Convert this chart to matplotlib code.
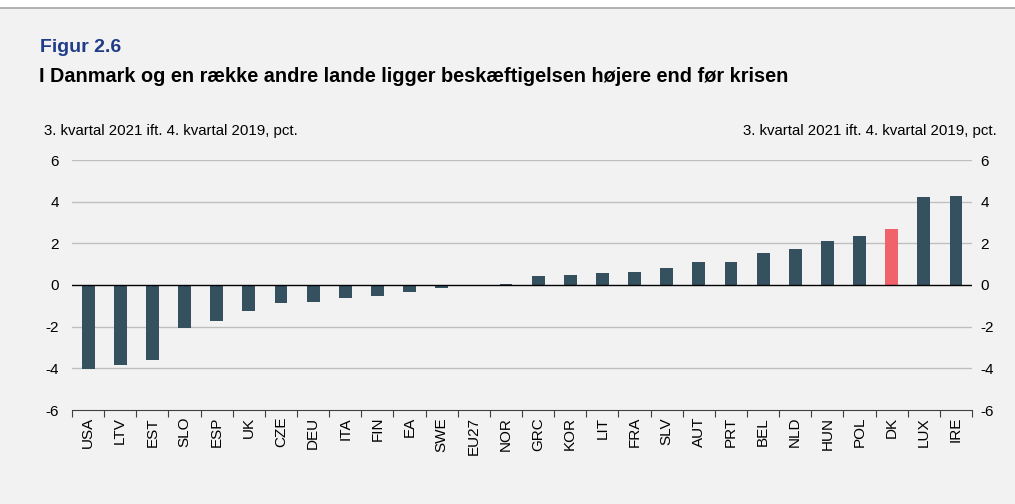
import numpy as np
import matplotlib
matplotlib.use("Agg")
from matplotlib import pyplot as plt
from matplotlib.patches import Rectangle

plt.rcParams['font.family'] = ['Liberation Sans', 'DejaVu Sans']

# Data.
countries = ["USA", "LTV", "EST", "SLO", "ESP", "UK", "CZE", "DEU", "ITA", "FIN",
             "EA", "SWE", "EU27", "NOR", "GRC", "KOR", "LIT", "FRA", "SLV", "AUT",
             "PRT", "BEL", "NLD", "HUN", "POL", "DK", "LUX", "IRE"]
values = [-4.03, -3.84, -3.6, -2.06, -1.71, -1.25, -0.86, -0.83, -0.62, -0.51,
          -0.34, -0.14, -0.06, 0.06, 0.43, 0.48, 0.59, 0.64, 0.8, 1.1,
          1.1, 1.54, 1.71, 2.1, 2.37, 2.7, 4.21, 4.29]
highlight = "DK"
y_ticks = [-6, -4, -2, 0, 2, 4, 6]
unit_label = "3. kvartal 2021 ift. 4. kvartal 2019, pct."

bg = "#f2f2f2"
bar_color = "#35505f"
hl_color = "#f0636b"

fig = plt.figure(figsize=(10.15, 5.04), dpi=100)
fig.patch.set_facecolor(bg)

# White strip and thin line at the very top.
fig.patches.append(Rectangle((0, 1 - 8 / 504), 1, 8 / 504, transform=fig.transFigure,
                             facecolor="white", edgecolor="none", zorder=0))
fig.add_artist(plt.Line2D([0, 1], [1 - 8 / 504, 1 - 8 / 504], transform=fig.transFigure,
                          color="#a6a6a6", lw=1.2))

ax = fig.add_axes([72 / 1015, 1 - 410 / 504, 900 / 1015, 250 / 504])
ax.set_facecolor(bg)

x = np.arange(len(countries))
colors = [hl_color if c == highlight else bar_color for c in countries]
ax.bar(x, values, width=0.4, color=colors, zorder=3)

ax.set_xlim(-0.5, len(countries) - 0.5)
ax.set_ylim(-6, 6)
ax.set_yticks(y_ticks)
ax.set_yticklabels([str(t) for t in y_ticks])
ax.tick_params(axis="y", length=0, labelsize=11, pad=9.5)

# Right-hand axis labels.
ax_r = ax.secondary_yaxis("right")
ax_r.set_yticks(y_ticks)
ax_r.set_yticklabels([str(t) for t in y_ticks])
ax_r.tick_params(axis="y", length=0, labelsize=11, pad=6)
ax_r.spines["right"].set_visible(False)

# Grid lines and zero line.
for t in y_ticks:
    if t == -6:
        continue
    if t == 0:
        ax.axhline(t, color="black", lw=1.0, zorder=4)
    else:
        ax.axhline(t, color="#bfbfbf", lw=1.0, zorder=1)

# Category labels and boundary ticks.
ax.set_xticks(x)
ax.set_xticklabels(countries, rotation=90, fontsize=11)
ax.tick_params(axis="x", length=0, pad=5)
ax.set_xticks(np.arange(len(countries) + 1) - 0.5, minor=True)
ax.tick_params(axis="x", which="minor", length=5, width=0.8, color="#404040")

for side in ["top", "left", "right"]:
    ax.spines[side].set_visible(False)
ax.spines["bottom"].set_color("#404040")
ax.spines["bottom"].set_linewidth(0.8)

# Titles and unit labels.
fig.text(40 / 1015, 1 - 47 / 504, "Figur 2.6", fontsize=14, fontweight="bold",
         color="#1f3c88", va="center", ha="left")
fig.text(39 / 1015, 1 - 77 / 504,
         "I Danmark og en række andre lande ligger beskæftigelsen højere end før krisen",
         fontsize=14.3, fontweight="bold", color="black", va="center", ha="left")
fig.text(44 / 1015, 1 - 131 / 504, unit_label, fontsize=10.8, va="center", ha="left")
fig.text(997 / 1015, 1 - 131 / 504, unit_label, fontsize=10.8, va="center", ha="right")

fig.savefig("out.png", dpi=100, facecolor=fig.get_facecolor())
